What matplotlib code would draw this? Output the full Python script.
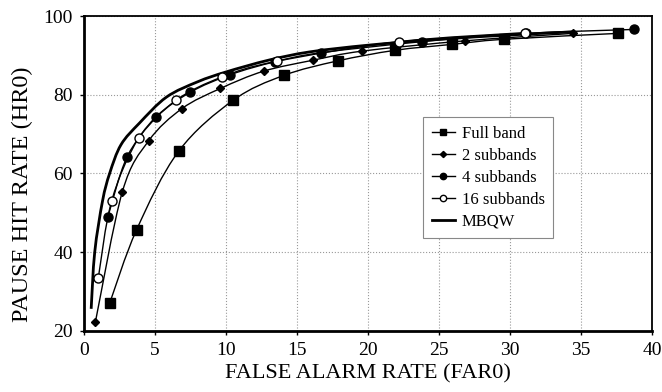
import matplotlib
matplotlib.use("Agg")
import matplotlib.pyplot as plt
from matplotlib.path import Path
from matplotlib.patches import PathPatch
from matplotlib.lines import Line2D

plt.rcParams['font.family'] = ['Liberation Serif', 'DejaVu Serif']

# Full band
full_x = [1.8, 3.7, 6.65, 10.5, 14.05, 17.85, 21.9, 25.9, 29.55, 37.6]
full_y = [27.0, 45.7, 65.6, 78.6, 84.9, 88.6, 91.3, 92.8, 94.1, 95.6]

# 2 subbands
sub2_x = [0.8, 2.7, 4.55, 6.9, 9.6, 12.65, 16.15, 19.6, 26.8, 34.4]
sub2_y = [22.3, 55.4, 68.3, 76.5, 81.6, 86.0, 88.8, 91.1, 93.7, 95.6]

# 4 subbands
sub4_x = [1.67, 3.03, 5.1, 7.46, 10.3, 13.45, 16.7, 23.8, 31.1, 38.7]
sub4_y = [48.9, 64.2, 74.3, 80.6, 85.1, 88.4, 90.7, 93.5, 95.6, 96.6]

# 16 subbands
sub16_x = [1.0, 1.95, 3.85, 6.48, 9.7, 13.56, 22.15, 31.05]
sub16_y = [33.4, 53.1, 69.0, 78.6, 84.5, 88.5, 93.5, 95.8]

# MBQW (curve only, no markers)
mbqw_x = [0.5, 0.75, 1.3, 1.8, 2.6, 3.9, 5.8, 8.0, 10.0, 13.0, 15.9, 20.0, 25.0, 30.0, 34.5]
mbqw_y = [25.6, 40.0, 53.0, 60.0, 67.3, 72.8, 79.4, 83.3, 85.8, 88.8, 90.9, 92.6, 94.1, 95.2, 96.0]


def smooth_path(xs, ys):
    """Bezier path through the points (like Excel's smoothed line)"""
    pts = list(zip(xs, ys))
    n = len(pts)
    verts = [pts[0]]
    codes = [Path.MOVETO]
    for i in range(n - 1):
        p0 = pts[max(i - 1, 0)]
        p1 = pts[i]
        p2 = pts[i + 1]
        p3 = pts[min(i + 2, n - 1)]
        c1 = (p1[0] + (p2[0] - p0[0]) / 6, p1[1] + (p2[1] - p0[1]) / 6)
        c2 = (p2[0] - (p3[0] - p1[0]) / 6, p2[1] - (p3[1] - p1[1]) / 6)
        verts += [c1, c2, p2]
        codes += [Path.CURVE4] * 3
    return Path(verts, codes)


fig = plt.figure(figsize=(6.62, 3.92), dpi=100)
ax = fig.add_axes([0.127, 0.156, 0.858, 0.803])

series = [
    (full_x, full_y, dict(marker='s', markersize=6.5), 'Full band'),
    (sub2_x, sub2_y, dict(marker='D', markersize=4.5), '2 subbands'),
    (sub4_x, sub4_y, dict(marker='o', markersize=6.5), '4 subbands'),
    (sub16_x, sub16_y, dict(marker='o', markersize=6.5, markerfacecolor='white'), '16 subbands'),
]

handles = []
for xs, ys, mk, name in series:
    ax.add_patch(PathPatch(smooth_path(xs, ys), facecolor='none', edgecolor='black',
                           linewidth=1.0, zorder=2))
    ax.plot(xs, ys, linestyle='none', color='black', zorder=3, **mk)
    small = dict(mk)
    small['markersize'] = mk['markersize'] * 0.7
    handles.append(Line2D([], [], color='black', linewidth=1.0, label=name, **small))

ax.add_patch(PathPatch(smooth_path(mbqw_x, mbqw_y), facecolor='none', edgecolor='black',
                       linewidth=2.0, zorder=2))
handles.append(Line2D([], [], color='black', linewidth=2.0, label='MBQW'))

ax.set_xlim(0, 40)
ax.set_ylim(20, 100)
ax.set_xticks(range(0, 41, 5))
ax.set_yticks(range(20, 101, 20))
ax.grid(True, color='#999999', linestyle=':', linewidth=0.8)
ax.tick_params(direction='out', length=3, width=1, labelsize=14, pad=5)

for side in ['left', 'bottom']:
    ax.spines[side].set_linewidth(2.0)
for side in ['top', 'right']:
    ax.spines[side].set_linewidth(1.3)

ax.set_xlabel("FALSE ALARM RATE (FAR0)", fontsize=16, labelpad=4)
ax.set_ylabel("PAUSE HIT RATE (HR0)", fontsize=17.5)
ax.yaxis.set_label_coords(-0.09, 0.435)

leg = ax.legend(handles=handles, loc='upper left', bbox_to_anchor=(0.597, 0.678), fontsize=12,
                frameon=True, fancybox=False, edgecolor='#888888', handlelength=1.4,
                borderpad=0.5, labelspacing=0.36, handletextpad=0.4, framealpha=1,
                borderaxespad=0)
leg.get_frame().set_linewidth(0.8)

fig.savefig("out.png", dpi=100)
